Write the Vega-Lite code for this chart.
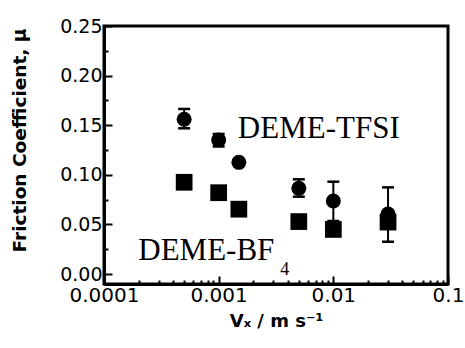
{
  "$schema": "https://vega.github.io/schema/vega-lite/v6.json",
  "width": 344,
  "height": 258,
  "autosize": "none",
  "padding": {"left": 104, "top": 26, "right": 17, "bottom": 64},
  "background": "white",
  "config": {
    "view": {"stroke": "black", "strokeWidth": 3},
    "axis": {"grid": false, "tickColor": "black", "domainColor": "black", "labelColor": "black", "titleColor": "black"}
  },
  "datasets": {
    "points": [
      {"series": "DEME-TFSI", "v": 0.0005, "mu": 0.156},
      {"series": "DEME-TFSI", "v": 0.001, "mu": 0.1351},
      {"series": "DEME-TFSI", "v": 0.0015, "mu": 0.1126},
      {"series": "DEME-TFSI", "v": 0.005, "mu": 0.0864},
      {"series": "DEME-TFSI", "v": 0.01, "mu": 0.0736},
      {"series": "DEME-TFSI", "v": 0.03, "mu": 0.0605},
      {"series": "DEME-BF4", "v": 0.0005, "mu": 0.0925},
      {"series": "DEME-BF4", "v": 0.001, "mu": 0.082},
      {"series": "DEME-BF4", "v": 0.0015, "mu": 0.0654},
      {"series": "DEME-BF4", "v": 0.005, "mu": 0.0529},
      {"series": "DEME-BF4", "v": 0.01, "mu": 0.045},
      {"series": "DEME-BF4", "v": 0.03, "mu": 0.0524}
    ],
    "errors": [
      {"series": "DEME-TFSI", "v": 0.0005, "lo": 0.1469, "hi": 0.1664},
      {"series": "DEME-TFSI", "v": 0.001, "lo": 0.1286, "hi": 0.1412},
      {"series": "DEME-TFSI", "v": 0.005, "lo": 0.078, "hi": 0.0955},
      {"series": "DEME-TFSI", "v": 0.01, "lo": 0.0535, "hi": 0.0931},
      {"series": "DEME-TFSI", "v": 0.03, "lo": 0.0326, "hi": 0.0874}
    ],
    "labels": [
      {"v": 0.00147, "mu": 0.1368, "text": "DEME-TFSI"},
      {"v": 0.000199, "mu": 0.0142, "text": "DEME-BF"}
    ],
    "subscripts": [
      {"v": 0.00345, "mu": -0.0009, "text": "4"}
    ]
  },
  "resolve": {"axis": {"x": "independent", "y": "independent"}},
  "layer": [
    {
      "data": {"name": "points"},
      "mark": {"type": "point", "filled": true, "color": "black", "opacity": 1, "strokeWidth": 0},
      "encoding": {
        "x": {
          "field": "v", "type": "quantitative",
          "scale": {"type": "log", "domain": [0.0001, 0.1], "nice": false},
          "axis": {
            "orient": "bottom",
            "values": [0.0001, 0.001, 0.01, 0.1],
            "format": "~g",
            "tickSize": -8, "tickWidth": 2,
            "domainWidth": 3,
            "labelFont": "DejaVu Sans", "labelFontSize": 20, "labelPadding": 9,
            "labelFlush": false, "labelOverlap": false,
            "title": "Vₓ / m s⁻¹",
            "titleFont": "DejaVu Sans", "titleFontWeight": "bold", "titleFontSize": 18,
            "titlePadding": 7
          }
        },
        "y": {
          "field": "mu", "type": "quantitative",
          "scale": {"domain": [-0.01, 0.25], "nice": false, "zero": false},
          "axis": {
            "orient": "left",
            "values": [0, 0.05, 0.1, 0.15, 0.2, 0.25],
            "format": ".2f",
            "tickSize": -8, "tickWidth": 2,
            "domainWidth": 3,
            "labelFont": "DejaVu Sans", "labelFontSize": 19, "labelPadding": 10,
            "labelFlush": false, "labelOverlap": false,
            "title": "Friction Coefficient, μ",
            "titleFont": "DejaVu Sans", "titleFontWeight": "bold", "titleFontSize": 18.5,
            "titlePadding": 30,
            "titleY": 114
          }
        },
        "shape": {"field": "series", "type": "nominal", "scale": {"domain": ["DEME-TFSI", "DEME-BF4"], "range": ["circle", "square"]}, "legend": null},
        "size": {"field": "series", "type": "nominal", "scale": {"domain": ["DEME-TFSI", "DEME-BF4"], "range": [225, 280]}, "legend": null}
      }
    },
    {
      "data": {"name": "points"},
      "mark": {"type": "point", "opacity": 0},
      "encoding": {
        "x": {
          "field": "v", "type": "quantitative",
          "axis": {
            "orient": "bottom",
            "values": [0.0002, 0.0003, 0.0004, 0.0005, 0.0006, 0.0007, 0.0008, 0.0009, 0.002, 0.003, 0.004, 0.005, 0.006, 0.007, 0.008, 0.009, 0.02, 0.03, 0.04, 0.05, 0.06, 0.07, 0.08, 0.09],
            "labels": false, "domain": false, "title": null,
            "tickSize": -4, "tickWidth": 2
          }
        },
        "y": {
          "field": "mu", "type": "quantitative",
          "axis": {
            "orient": "left",
            "values": [0.025, 0.075, 0.125, 0.175, 0.225],
            "labels": false, "domain": false, "title": null,
            "tickSize": -4, "tickWidth": 2
          }
        }
      }
    },
    {
      "data": {"name": "errors"},
      "mark": {"type": "rule", "color": "black", "strokeWidth": 2},
      "encoding": {
        "x": {"field": "v", "type": "quantitative", "axis": null},
        "y": {"field": "lo", "type": "quantitative", "axis": null},
        "y2": {"field": "hi"}
      }
    },
    {
      "data": {"name": "errors"},
      "mark": {"type": "tick", "orient": "horizontal", "color": "black", "size": 12, "thickness": 2.5, "opacity": 1},
      "encoding": {
        "x": {"field": "v", "type": "quantitative", "axis": null},
        "y": {"field": "hi", "type": "quantitative", "axis": null}
      }
    },
    {
      "data": {"name": "errors"},
      "mark": {"type": "tick", "orient": "horizontal", "color": "black", "size": 12, "thickness": 2.5, "opacity": 1},
      "encoding": {
        "x": {"field": "v", "type": "quantitative", "axis": null},
        "y": {"field": "lo", "type": "quantitative", "axis": null}
      }
    },
    {
      "data": {"name": "labels"},
      "mark": {"type": "text", "font": "Liberation Serif", "fontSize": 31, "align": "left", "baseline": "alphabetic", "color": "black"},
      "encoding": {
        "x": {"field": "v", "type": "quantitative", "axis": null},
        "y": {"field": "mu", "type": "quantitative", "axis": null},
        "text": {"field": "text"}
      }
    },
    {
      "data": {"name": "subscripts"},
      "mark": {"type": "text", "font": "Liberation Serif", "fontSize": 18, "align": "left", "baseline": "alphabetic", "color": "black"},
      "encoding": {
        "x": {"field": "v", "type": "quantitative", "axis": null},
        "y": {"field": "mu", "type": "quantitative", "axis": null},
        "text": {"field": "text"}
      }
    }
  ]
}
